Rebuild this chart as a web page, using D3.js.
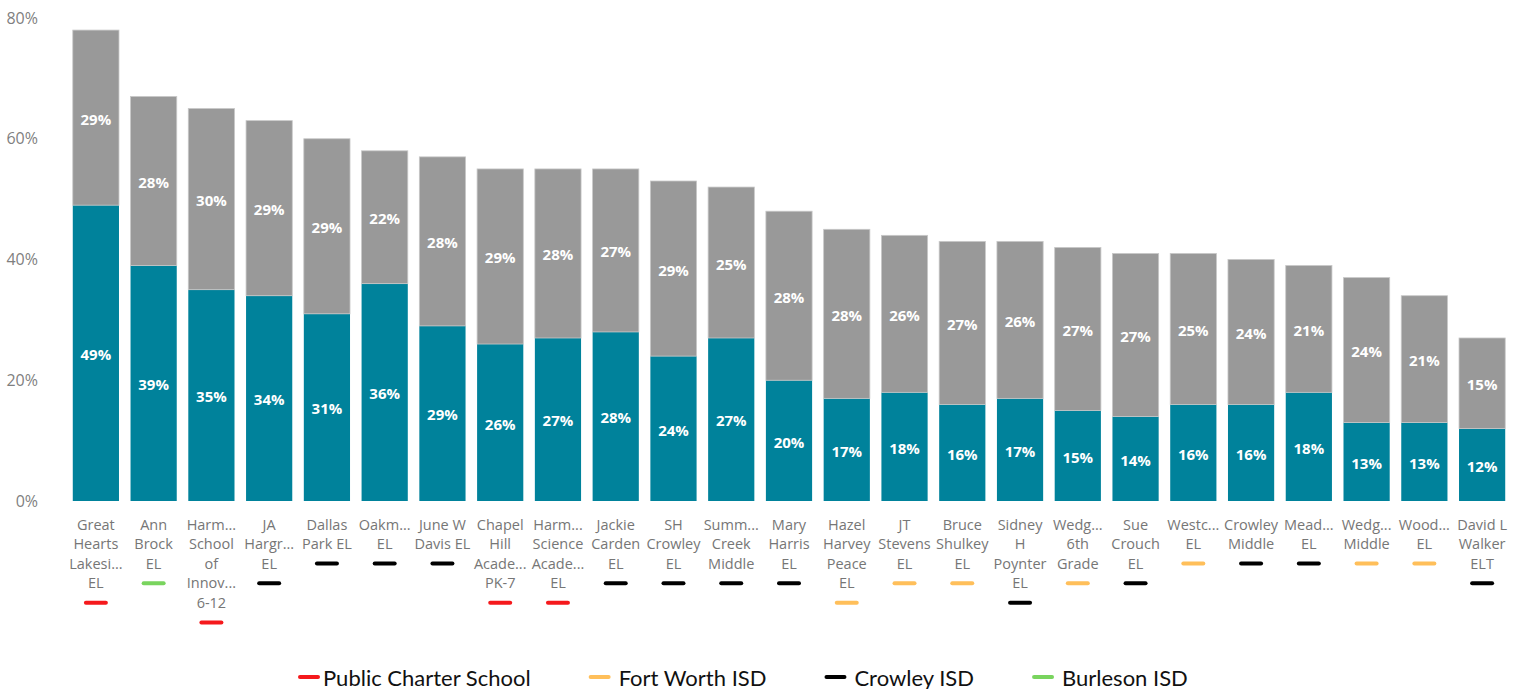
<!DOCTYPE html>
<html>
<head>
<meta charset="utf-8">
<script src="https://cdn.jsdelivr.net/npm/d3@7"></script>
<style>
  body { margin: 0; background: #fff; }
  svg { display: block; }
</style>
</head>
<body>
<div id="chart"></div>
<script>
// Etiquetas de las escuelas ('|' = salto de linea)
const schools = [
  'Great|Hearts|Lakesi...|EL', 'Ann|Brock|EL', 'Harm...|School|of|Innov...|6-12', 'JA|Hargr...|EL',
  'Dallas|Park EL', 'Oakm...|EL', 'June W|Davis EL', 'Chapel|Hill|Acade...|PK-7',
  'Harm...|Science|Acade...|EL', 'Jackie|Carden|EL', 'SH|Crowley|EL', 'Summ...|Creek|Middle',
  'Mary|Harris|EL', 'Hazel|Harvey|Peace|EL', 'JT|Stevens|EL', 'Bruce|Shulkey|EL',
  'Sidney|H|Poynter|EL', 'Wedg...|6th|Grade', 'Sue|Crouch|EL', 'Westc...|EL',
  'Crowley|Middle', 'Mead...|EL', 'Wedg...|Middle', 'Wood...|EL', 'David L|Walker|ELT'
];
// Segmento inferior (azul) y superior (gris), en %
const lowerValues = [49, 39, 35, 34, 31, 36, 29, 26, 27, 28, 24, 27, 20, 17, 18, 16, 17, 15, 14, 16, 16, 18, 13, 13, 12];
const upperValues = [29, 28, 30, 29, 29, 22, 28, 29, 28, 27, 29, 25, 28, 28, 26, 27, 26, 27, 27, 25, 24, 21, 24, 21, 15];
// Distrito de cada escuela
const districts = [
  'Public Charter School', 'Burleson ISD', 'Public Charter School', 'Crowley ISD',
  'Crowley ISD', 'Crowley ISD', 'Crowley ISD', 'Public Charter School',
  'Public Charter School', 'Crowley ISD', 'Crowley ISD', 'Crowley ISD',
  'Crowley ISD', 'Fort Worth ISD', 'Fort Worth ISD', 'Fort Worth ISD',
  'Crowley ISD', 'Fort Worth ISD', 'Crowley ISD', 'Fort Worth ISD',
  'Crowley ISD', 'Crowley ISD', 'Fort Worth ISD', 'Fort Worth ISD', 'Crowley ISD'
];
const legendNames = ['Public Charter School', 'Fort Worth ISD', 'Crowley ISD', 'Burleson ISD'];
const yTicks = [0, 20, 40, 60, 80];

const width = 1515, height = 689;
const baseY = 501, topY = 18;

const svg = d3.select('#chart').append('svg')
  .attr('width', width)
  .attr('height', height);

const x = d3.scaleBand()
  .domain(schools)
  .range([67, 1511])
  .paddingInner(0.2)
  .paddingOuter(0.1);

const y = d3.scaleLinear()
  .domain([0, 80])
  .range([baseY, topY]);

const districtColor = d3.scaleOrdinal()
  .domain(legendNames)
  .range(['#f5191c', '#ffbf5a', '#000000', '#79d45e']);

// Eje Y
const yAxis = svg.append('g')
  .attr('transform', 'translate(38,0)')
  .call(d3.axisLeft(y).tickValues(yTicks).tickFormat(d => d + '%').tickSize(0).tickPadding(0));
yAxis.select('.domain').remove();
yAxis.selectAll('text')
  .attr('fill', '#7f7f7f')
  .style('font-family', '"Open Sans", sans-serif')
  .style('font-size', '16px');

const rows = schools.map((s, i) => ({ name: s, lower: lowerValues[i], upper: upperValues[i], district: districts[i] }));

const bars = svg.append('g').selectAll('g')
  .data(rows)
  .enter()
  .append('g');

bars.append('rect')
  .attr('x', d => x(d.name))
  .attr('width', x.bandwidth())
  .attr('y', d => y(d.lower))
  .attr('height', d => y(0) - y(d.lower))
  .attr('fill', '#00829b');

bars.append('rect')
  .attr('x', d => x(d.name))
  .attr('width', x.bandwidth())
  .attr('y', d => y(d.lower + d.upper))
  .attr('height', d => y(d.lower) - y(d.lower + d.upper))
  .attr('fill', '#999999')
  .attr('stroke', '#c8c8c8')
  .attr('stroke-width', 0.8);

const labelStyle = sel => sel
  .attr('text-anchor', 'middle')
  .attr('dominant-baseline', 'central')
  .attr('fill', '#ffffff')
  .style('font-family', '"Open Sans", sans-serif')
  .style('font-weight', 'bold')
  .style('font-size', '15px');

bars.append('text')
  .attr('x', d => x(d.name) + x.bandwidth() / 2)
  .attr('y', d => y(d.lower / 2) + 1)
  .text(d => d.lower + '%')
  .call(labelStyle);

bars.append('text')
  .attr('x', d => x(d.name) + x.bandwidth() / 2)
  .attr('y', d => y(d.lower + d.upper / 2) + 1)
  .text(d => d.upper + '%')
  .call(labelStyle);

// Etiquetas de categoria
const lineH = 19.6, firstLine = 524;
const cat = bars.append('text')
  .attr('text-anchor', 'middle')
  .attr('fill', '#767676')
  .style('font-family', '"Open Sans", sans-serif')
  .style('font-size', '14.5px');

cat.selectAll('tspan')
  .data(d => d.name.split('|').map(t => ({ t, cx: x(d.name) + x.bandwidth() / 2 })))
  .enter()
  .append('tspan')
  .attr('x', d => d.cx)
  .attr('y', (d, i) => firstLine + i * lineH)
  .attr('dominant-baseline', 'central')
  .text(d => d.t);

// Marca del distrito bajo cada etiqueta
bars.append('line')
  .attr('x1', d => x(d.name) + x.bandwidth() / 2 - 10)
  .attr('x2', d => x(d.name) + x.bandwidth() / 2 + 10)
  .attr('y1', d => firstLine + (d.name.split('|').length - 1) * lineH + 20)
  .attr('y2', d => firstLine + (d.name.split('|').length - 1) * lineH + 20)
  .attr('stroke', d => districtColor(d.district))
  .attr('stroke-width', 4)
  .attr('stroke-linecap', 'round');

// Leyenda: cada elemento se coloca tras el anterior
const legend = svg.append('g').attr('transform', 'translate(300, 677)');
let cursor = 0;
legendNames.forEach((name, i) => {
  const item = legend.append('g').attr('transform', `translate(${cursor}, 0)`);
  item.append('line')
    .attr('x1', 0).attr('x2', 18)
    .attr('stroke', districtColor(name))
    .attr('stroke-width', 4)
    .attr('stroke-linecap', 'round');
  const textX = i === 0 ? 23 : 28;
  const t = item.append('text')
    .attr('x', textX)
    .attr('dominant-baseline', 'central')
    .attr('fill', '#111')
    .style('font-family', 'Lato, sans-serif')
    .style('font-size', '22px')
    .text(name);
  cursor += textX + t.node().getComputedTextLength() + 60;
});
</script>
</body>
</html>
